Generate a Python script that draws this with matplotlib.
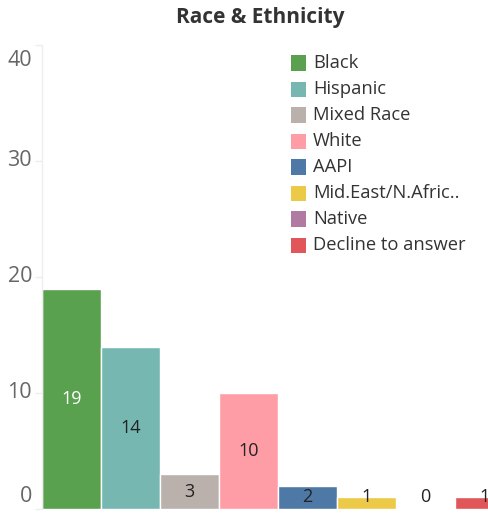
import matplotlib
matplotlib.use("Agg")
import matplotlib.pyplot as plt
from matplotlib.patches import Rectangle

categories = ["Black", "Hispanic", "Mixed Race", "White", "AAPI",
              "Mid.East/N.Afric..", "Native", "Decline to answer"]
values = [19, 14, 3, 10, 2, 1, 0, 1]
colors = ["#59a14f", "#76b7b2", "#bab0ac", "#ff9da7", "#4e79a7",
          "#edc948", "#b07aa1", "#e15759"]
yticks = [0, 10, 20, 30, 40]

plt.rcParams['font.family'] = ['Open Sans', 'DejaVu Sans']

W, H = 488, 513
fig = plt.figure(figsize=(W / 100, H / 100), dpi=100)
ax = fig.add_axes([42 / W, (H - 509) / H, (W - 42) / W, (509 - 45) / H])

x = list(range(len(categories)))
ax.bar(x, values, width=1.0, color=colors, edgecolor="white", linewidth=1.0)

for xi, v in zip(x, values):
    yl = max(v / 2, 1.05)
    ax.text(xi, yl, str(v), ha="center", va="center", fontsize=13,
            fontweight="medium",
            color="white" if v >= 15 else "#222222", clip_on=True)

ax.set_xlim(-0.5, 7.06)
ax.set_ylim(0, 40)
ax.set_xticks([])
ax.set_yticks(yticks)
ax.set_yticklabels([])
for t in yticks:
    yy = t
    if t == 40:
        yy = 38.7
    elif t == 0:
        yy = 1.05
    ax.text(-0.5 - 10 / 59, yy, str(t), ha="right", va="center",
            fontsize=15.5, fontweight="medium", color="#666666", clip_on=False)
ax.tick_params(axis="y", length=5, color="#eeeeee", width=1)
for s in ["top", "right", "bottom"]:
    ax.spines[s].set_visible(False)
ax.spines["left"].set_color("#eeeeee")
ax.spines["left"].set_linewidth(1)

fig.text(260 / W, 1 - 18 / H, "Race & Ethnicity", ha="center", va="center",
         fontsize=15, fontweight="bold", color="#333333")

# legend
for i, (c, col) in enumerate(zip(categories, colors)):
    yc = 63 + 26 * i
    fig.patches.append(Rectangle((291 / W, 1 - (yc + 7.5) / H), 15 / W, 15 / H,
                                 transform=fig.transFigure, facecolor=col,
                                 edgecolor="none"))
    fig.text(313 / W, 1 - yc / H, c, ha="left", va="center",
             fontsize=13.2, fontweight="medium", color="#333333")

fig.savefig("out.png", dpi=100)
